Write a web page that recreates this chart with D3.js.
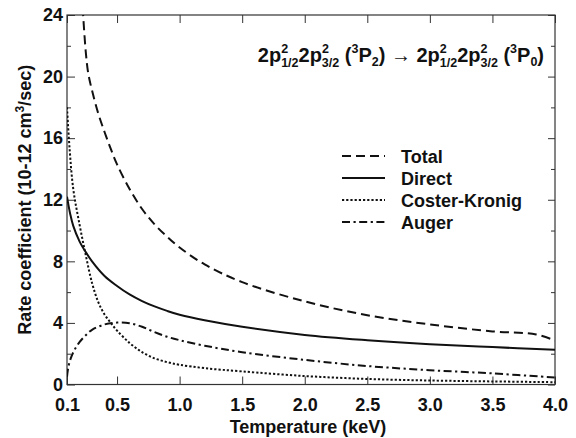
<!DOCTYPE html>
<html>
<head>
<meta charset="utf-8">
<script src="https://cdn.jsdelivr.net/npm/d3@7"></script>
<style>
  body { margin: 0; background: #fff; }
  text { font-family: "Liberation Sans", Arial, sans-serif; font-weight: bold; fill: #111; }
</style>
</head>
<body>
<svg id="chart" width="576" height="438"></svg>
<script>
// values (temperature in keV, rate in 1e-12 cm3/s)
var xTotal = [0.225, 0.25, 0.27, 0.3, 0.35, 0.4, 0.45, 0.5, 0.6, 0.7, 0.8, 0.9, 1.0, 1.2, 1.5, 2.0, 2.5, 3.0, 3.5, 3.85, 4.0];
var total  = [24.5, 21.6, 20.2, 19.1, 17.6, 16.4, 15.3, 14.3, 12.7, 11.4, 10.4, 9.6, 8.9, 7.8, 6.65, 5.4, 4.5, 3.9, 3.45, 3.25, 2.85];

var xDirect = [0.1, 0.125, 0.15, 0.2, 0.25, 0.3, 0.4, 0.5, 0.6, 0.7, 0.8, 0.9, 1.0, 1.2, 1.5, 2.0, 2.5, 3.0, 3.5, 4.0];
var direct  = [12.2, 11.1, 10.3, 9.3, 8.6, 8.0, 7.05, 6.4, 5.85, 5.42, 5.07, 4.78, 4.53, 4.17, 3.75, 3.22, 2.88, 2.62, 2.43, 2.25];

var xCoster = [0.1, 0.12, 0.15, 0.2, 0.25, 0.3, 0.35, 0.4, 0.45, 0.5, 0.6, 0.7, 0.8, 0.9, 1.0, 1.2, 1.5, 2.0, 2.5, 3.0, 3.5, 4.0];
var coster  = [18.0, 15.4, 12.7, 10.4, 8.4, 6.6, 5.35, 4.55, 4.0, 3.5, 2.7, 2.1, 1.7, 1.45, 1.28, 1.06, 0.85, 0.55, 0.36, 0.26, 0.2, 0.15];

var xAuger = [0.1, 0.11, 0.13, 0.16, 0.2, 0.25, 0.3, 0.4, 0.5, 0.6, 0.7, 0.8, 0.9, 1.0, 1.2, 1.5, 2.0, 2.5, 3.0, 3.5, 4.0];
var auger  = [0.5, 1.1, 1.7, 2.25, 2.75, 3.2, 3.55, 3.9, 4.02, 3.98, 3.75, 3.4, 3.1, 2.88, 2.52, 2.1, 1.6, 1.2, 0.93, 0.72, 0.45];

var xTicks = [0.1, 0.5, 1.0, 1.5, 2.0, 2.5, 3.0, 3.5, 4.0];
var yTicks = [0, 4, 8, 12, 16, 20, 24];
var yMinor = [2, 6, 10, 14, 18, 22];

var legendNames = ["Total", "Direct", "Coster-Kronig", "Auger"];

var margin = {top: 15, left: 67},
    width = 488,
    height = 369.5;

var svg = d3.select("#chart");
var g = svg.append("g").attr("transform", `translate(${margin.left},${margin.top})`);

var x = d3.scaleLinear().domain([0.1, 4.0]).range([0, width]);
var y = d3.scaleLinear().domain([0, 24]).range([height, 0]);

svg.append("defs").append("clipPath").attr("id", "clip")
  .append("rect").attr("width", width).attr("height", height);

// axes, ticks pointing inward
g.append("g").attr("transform", `translate(0,${height})`)
  .call(d3.axisBottom(x).tickValues(xTicks).tickFormat(d3.format(".1f")).tickSizeInner(-8).tickSizeOuter(0).tickPadding(14));
g.append("g")
  .call(d3.axisTop(x).tickValues(xTicks).tickFormat("").tickSizeInner(-8).tickSizeOuter(0));
g.append("g")
  .call(d3.axisLeft(y).tickValues(yTicks).tickFormat(d3.format("d")).tickSizeInner(-8).tickSizeOuter(0).tickPadding(4));
g.append("g")
  .call(d3.axisLeft(y).tickValues(yMinor).tickFormat("").tickSizeInner(-4).tickSizeOuter(0));
g.append("g").attr("transform", `translate(${width},0)`)
  .call(d3.axisRight(y).tickValues(yTicks).tickFormat("").tickSizeInner(-7).tickSizeOuter(0));
g.append("g").attr("transform", `translate(${width},0)`)
  .call(d3.axisRight(y).tickValues(yMinor).tickFormat("").tickSizeInner(-4).tickSizeOuter(0));

g.selectAll(".domain").remove();
g.selectAll(".tick line").attr("stroke", "#333");
g.selectAll(".tick text").style("font-size", "18px").attr("fill", "#111");

g.append("rect")
  .attr("width", width).attr("height", height)
  .attr("fill", "none").attr("stroke", "#333").attr("stroke-width", 1.2);

// curves
var series = [
  {xs: xTotal, ys: total, dash: "9,5"},
  {xs: xDirect, ys: direct, dash: null},
  {xs: xCoster, ys: coster, dash: "2.2,2"},
  {xs: xAuger, ys: auger, dash: "8,3.5,2.2,3.5"}
];

var line = d3.line()
  .x(d => x(d[0]))
  .y(d => y(d[1]))
  .curve(d3.curveCatmullRom.alpha(0.5));

var curves = g.append("g").attr("clip-path", "url(#clip)");
series.forEach(function(s) {
  curves.append("path")
    .datum(d3.zip(s.xs, s.ys))
    .attr("fill", "none")
    .attr("stroke", "#111")
    .attr("stroke-width", 2)
    .attr("stroke-dasharray", s.dash)
    .attr("d", line);
});

// legend
var legend = svg.append("g").attr("transform", "translate(342,156)");
series.forEach(function(s, i) {
  legend.append("line")
    .attr("x1", 0).attr("x2", 43)
    .attr("y1", i * 22).attr("y2", i * 22)
    .attr("stroke", "#111").attr("stroke-width", 2)
    .attr("stroke-dasharray", s.dash);
  legend.append("text")
    .attr("x", 59).attr("y", i * 22 + 6.5)
    .style("font-size", "18px")
    .text(legendNames[i]);
});

// title with stacked super/subscripts
var title = svg.append("text")
  .attr("x", 544).attr("y", 62)
  .attr("text-anchor", "end")
  .style("font-size", "20px");

function config(t) {
  t.append("tspan").text("2p");
  t.append("tspan").attr("dy", -9).style("font-size", "12.5px").text("2");
  t.append("tspan").attr("dx", -7).attr("dy", 14).style("font-size", "12.5px").text("1/2");
  t.append("tspan").attr("dy", -5).text("2p");
  t.append("tspan").attr("dy", -9).style("font-size", "12.5px").text("2");
  t.append("tspan").attr("dx", -7).attr("dy", 14).style("font-size", "12.5px").text("3/2");
}
function term(t, j) {
  t.append("tspan").attr("dy", -5).text(" (");
  t.append("tspan").attr("dy", -9).style("font-size", "12.5px").text("3");
  t.append("tspan").attr("dy", 9).text("P");
  t.append("tspan").attr("dy", 4).style("font-size", "12.5px").text(j);
  t.append("tspan").attr("dy", -4).text(")");
}
config(title);
term(title, "2");
title.append("tspan").text(" \u2192 ");
config(title);
term(title, "0");

// axis titles
svg.append("text")
  .attr("x", margin.left + width / 2 - 3).attr("y", 433)
  .attr("text-anchor", "middle")
  .style("font-size", "18px")
  .text("Temperature (keV)");

var ylab = svg.append("text")
  .attr("transform", `translate(31,${margin.top + height / 2}) rotate(-90)`)
  .attr("text-anchor", "middle")
  .style("font-size", "18px");
ylab.append("tspan").text("Rate coefficient (10-12 cm");
ylab.append("tspan").attr("dy", -7).style("font-size", "12px").text("3");
ylab.append("tspan").attr("dy", 7).text("/sec)");
</script>
</body>
</html>
